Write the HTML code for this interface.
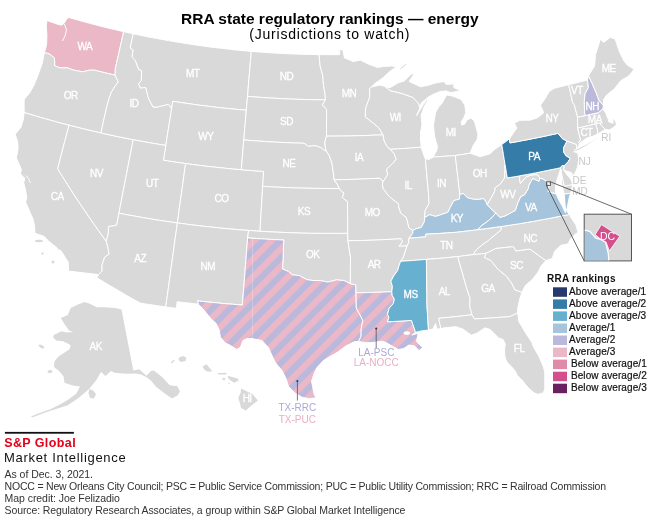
<!DOCTYPE html>
<html><head><meta charset="utf-8"><style>
html,body{margin:0;padding:0;background:#fff}
body{width:660px;height:520px;overflow:hidden;position:relative;font-family:"Liberation Sans",sans-serif}
svg{position:absolute;left:0;top:0;will-change:transform}
.t{position:absolute;white-space:nowrap;color:#000;line-height:1}
.f{position:absolute;left:5px;white-space:nowrap;color:#222;font-size:10px;line-height:1}
</style></head><body>
<svg width="660" height="520" viewBox="0 0 660 520">
<defs>
<pattern id="stripe" patternUnits="userSpaceOnUse" width="12.445" height="12.445" patternTransform="rotate(45)">
<rect x="0" y="0" width="12.445" height="12.445" fill="#ebb8c8"/><rect x="4.34" y="0" width="6.222" height="12.445" fill="#bab9dc"/>
</pattern>
</defs>
<g stroke="#fff" stroke-width="1" stroke-linejoin="round">
<path d="M44.4,52.4L45.9,47.6L46.7,43.2L46.8,38.6L46.9,34.0L46.5,30.0L46.2,26.0L47.1,20.4L49.5,21.4L52.0,22.3L54.8,23.2L57.5,24.2L59.5,24.7L61.5,25.2L64.0,23.5L66.5,19.5L68.5,17.4L72.2,18.5L75.8,19.5L79.5,20.5L83.2,21.5L86.8,22.5L90.5,23.5L94.2,24.5L97.8,25.4L101.5,26.4L105.2,27.3L108.9,28.2L112.6,29.1L116.3,29.9L119.9,30.8L123.6,31.6L122.5,36.9L121.3,42.2L120.1,47.5L118.9,52.8L117.7,58.1L116.5,63.4L115.3,68.7L115.2,71.9L115.1,75.1L111.6,74.3L108.1,73.5L104.7,72.7L101.2,71.8L97.7,71.0L94.2,70.1L91.4,70.2L88.6,70.3L85.7,71.1L82.8,71.8L79.7,71.3L76.6,70.7L73.5,70.1L70.6,69.0L67.6,67.8L63.8,67.9L60.0,67.9L57.3,66.8L54.6,65.6L54.7,61.8L54.2,57.8L52.0,56.0L49.9,54.2L47.2,53.3L44.4,52.4Z" fill="#ebb8c8"/><path d="M44.4,52.4L43.3,57.9L42.2,63.5L40.7,67.7L39.2,71.9L37.7,76.1L35.7,80.9L33.7,85.8L31.8,89.1L29.9,92.4L27.1,95.9L24.2,99.4L24.1,103.6L24.1,107.8L24.2,112.5L28.3,113.8L32.3,115.0L36.4,116.2L40.4,117.4L44.5,118.5L48.6,119.7L52.6,120.8L56.7,122.0L60.8,123.1L64.9,124.1L69.0,125.2L72.9,126.2L76.9,127.2L80.9,128.2L84.9,129.2L88.9,130.2L92.9,131.1L96.9,132.0L100.9,132.9L102.1,127.7L103.2,122.4L104.4,117.2L105.6,112.0L106.8,106.7L107.8,103.1L108.7,99.5L110.1,95.7L111.5,91.9L113.2,89.2L114.9,86.4L118.3,81.9L116.7,78.5L115.1,75.1L111.6,74.3L108.1,73.5L104.7,72.7L101.2,71.8L97.7,71.0L94.2,70.1L91.4,70.2L88.6,70.3L85.7,71.1L82.8,71.8L79.7,71.3L76.6,70.7L73.5,70.1L70.6,69.0L67.6,67.8L63.8,67.9L60.0,67.9L57.3,66.8L54.6,65.6L54.7,61.8L54.2,57.8L52.0,56.0L49.9,54.2L47.2,53.3L44.4,52.4Z" fill="#d9d9d9"/><path d="M24.2,112.5L23.7,116.3L23.2,120.0L22.1,123.6L21.0,127.2L18.1,130.7L15.2,134.2L16.4,138.0L17.7,141.8L18.1,148.2L17.3,153.1L16.4,157.9L18.9,163.7L21.4,169.6L20.5,174.0L22.7,176.2L24.9,178.4L23.7,182.7L25.4,189.4L26.1,193.5L26.8,197.6L25.6,202.0L27.9,207.3L30.1,212.5L31.7,216.1L33.2,219.6L34.6,226.2L34.8,229.7L35.0,233.2L39.5,234.8L44.0,236.3L46.5,238.9L49.0,241.5L51.1,243.2L53.2,244.8L57.5,248.2L57.2,249.6L60.8,250.5L62.7,253.3L65.4,257.7L68.2,262.2L68.4,266.6L68.5,271.0L72.8,271.6L77.1,272.1L81.4,272.6L85.7,273.1L90.0,273.6L94.3,274.1L98.6,274.5L102.1,271.0L102.0,264.9L103.4,260.9L104.8,257.0L109.2,254.1L108.4,250.1L107.6,246.1L106.3,241.3L102.6,236.2L98.9,231.1L95.3,225.9L91.7,220.8L88.1,215.6L84.6,210.4L81.1,205.3L77.6,200.1L74.2,194.9L70.8,189.6L67.5,184.4L64.2,179.2L60.9,173.9L57.7,168.7L59.1,163.3L60.5,157.8L61.9,152.4L63.3,146.9L64.7,141.5L66.2,136.1L67.6,130.6L69.0,125.2L64.9,124.1L60.8,123.1L56.7,122.0L52.6,120.8L48.6,119.7L44.5,118.5L40.4,117.4L36.4,116.2L32.3,115.0L28.3,113.8L24.2,112.5Z" fill="#d9d9d9"/><path d="M69.0,125.2L72.9,126.2L76.9,127.2L80.9,128.2L84.9,129.2L88.9,130.2L92.9,131.1L96.9,132.0L100.9,132.9L104.9,133.8L108.9,134.7L113.0,135.6L117.0,136.5L121.1,137.3L125.1,138.1L129.2,138.9L133.2,139.7L132.1,145.4L131.0,151.0L129.9,156.7L128.8,162.3L127.7,168.0L126.6,173.6L125.5,179.3L124.4,184.9L123.3,190.6L122.2,196.3L121.1,201.9L120.0,207.6L118.9,213.2L117.8,219.1L116.7,225.0L113.4,225.9L110.9,226.2L108.4,226.5L108.4,232.6L107.4,236.9L106.3,241.3L102.6,236.2L98.9,231.1L95.3,225.9L91.7,220.8L88.1,215.6L84.6,210.4L81.1,205.3L77.6,200.1L74.2,194.9L70.8,189.6L67.5,184.4L64.2,179.2L60.9,173.9L57.7,168.7L59.1,163.3L60.5,157.8L61.9,152.4L63.3,146.9L64.7,141.5L66.2,136.1L67.6,130.6L69.0,125.2Z" fill="#d9d9d9"/><path d="M115.1,75.1L115.2,71.9L115.3,68.7L116.5,63.4L117.7,58.1L118.9,52.8L120.1,47.5L121.3,42.2L122.5,36.9L123.6,31.6L126.9,32.4L130.1,33.1L133.3,33.8L132.2,38.5L131.2,43.3L130.2,48.1L133.3,50.3L132.6,53.5L132.0,56.8L133.7,58.7L135.4,60.5L137.0,65.0L138.8,69.5L141.7,70.8L141.5,75.7L141.3,80.6L138.6,83.8L140.4,88.0L143.1,87.7L145.8,87.5L146.9,91.9L147.9,96.2L149.4,100.2L151.2,103.6L153.0,107.0L157.3,107.0L161.1,106.1L164.8,105.2L168.6,104.3L171.6,108.6L170.8,113.9L170.0,119.1L169.1,124.4L168.3,129.6L167.4,134.9L166.6,140.2L165.8,145.4L161.7,144.8L157.6,144.1L153.5,143.4L149.5,142.7L145.4,142.0L141.3,141.2L137.3,140.5L133.2,139.7L129.2,138.9L125.1,138.1L121.1,137.3L117.0,136.5L113.0,135.6L108.9,134.7L104.9,133.8L100.9,132.9L102.1,127.7L103.2,122.4L104.4,117.2L105.6,112.0L106.8,106.7L107.8,103.1L108.7,99.5L110.1,95.7L111.5,91.9L113.2,89.2L114.9,86.4L118.3,81.9L116.7,78.5L115.1,75.1Z" fill="#d9d9d9"/><path d="M133.3,33.8L137.2,34.6L141.1,35.4L145.0,36.2L148.9,37.0L152.8,37.7L156.7,38.5L160.6,39.2L164.5,39.9L168.4,40.6L172.3,41.3L176.3,42.0L180.2,42.6L184.1,43.2L188.1,43.8L192.0,44.4L195.9,45.0L199.9,45.6L203.8,46.1L207.8,46.7L211.7,47.2L215.7,47.7L219.6,48.1L223.6,48.6L227.5,49.0L231.5,49.5L235.4,49.9L239.4,50.3L243.3,50.7L247.3,51.0L251.3,51.4L250.8,57.0L250.3,62.6L249.9,68.2L249.4,73.8L248.9,79.4L248.4,85.0L248.0,90.7L247.5,96.3L247.1,101.0L246.7,105.6L246.3,110.2L242.2,109.9L238.1,109.5L234.0,109.1L229.9,108.7L225.8,108.3L221.7,107.9L217.6,107.4L213.6,106.9L209.5,106.4L205.4,105.9L201.3,105.4L197.2,104.9L193.2,104.3L189.1,103.7L185.0,103.1L181.0,102.5L176.9,101.9L172.8,101.3L172.2,104.9L171.6,108.6L168.6,104.3L164.8,105.2L161.1,106.1L157.3,107.0L153.0,107.0L151.2,103.6L149.4,100.2L147.9,96.2L146.9,91.9L145.8,87.5L143.1,87.7L140.4,88.0L138.6,83.8L141.3,80.6L141.5,75.7L141.7,70.8L138.8,69.5L137.0,65.0L135.4,60.5L133.7,58.7L132.0,56.8L132.6,53.5L133.3,50.3L130.2,48.1L131.2,43.3L132.2,38.5L133.3,33.8Z" fill="#d9d9d9"/><path d="M171.6,108.6L172.2,104.9L172.8,101.3L176.9,101.9L181.0,102.5L185.0,103.1L189.1,103.7L193.2,104.3L197.2,104.9L201.3,105.4L205.4,105.9L209.5,106.4L213.6,106.9L217.6,107.4L221.7,107.9L225.8,108.3L229.9,108.7L234.0,109.1L238.1,109.5L242.2,109.9L246.3,110.2L245.8,116.2L245.3,122.1L244.8,128.0L244.3,134.0L243.8,139.9L243.3,145.9L242.8,151.8L242.3,157.8L241.8,163.8L241.3,169.7L237.0,169.4L232.7,169.0L228.4,168.6L224.1,168.1L219.8,167.7L215.5,167.2L211.2,166.8L206.9,166.3L202.7,165.8L198.4,165.2L194.1,164.7L189.8,164.1L185.6,163.5L181.1,162.9L176.7,162.3L172.3,161.6L167.8,160.9L163.4,160.2L164.2,155.3L165.0,150.4L165.8,145.4L166.6,140.2L167.4,134.9L168.3,129.6L169.1,124.4L170.0,119.1L170.8,113.9L171.6,108.6Z" fill="#d9d9d9"/><path d="M133.2,139.7L137.3,140.5L141.3,141.2L145.4,142.0L149.5,142.7L153.5,143.4L157.6,144.1L161.7,144.8L165.8,145.4L165.0,150.4L164.2,155.3L163.4,160.2L167.8,160.9L172.3,161.6L176.7,162.3L181.1,162.9L185.6,163.5L184.7,169.5L183.9,175.4L183.1,181.3L182.3,187.3L181.5,193.2L180.6,199.1L179.8,205.1L179.0,211.0L178.2,217.0L177.4,222.9L172.8,222.3L168.3,221.6L163.8,221.0L159.3,220.3L154.8,219.6L150.3,218.8L145.8,218.1L141.3,217.3L136.8,216.5L132.4,215.7L127.9,214.9L123.4,214.1L118.9,213.2L120.0,207.6L121.1,201.9L122.2,196.3L123.3,190.6L124.4,184.9L125.5,179.3L126.6,173.6L127.7,168.0L128.8,162.3L129.9,156.7L131.0,151.0L132.1,145.4L133.2,139.7Z" fill="#d9d9d9"/><path d="M118.9,213.2L123.4,214.1L127.9,214.9L132.4,215.7L136.8,216.5L141.3,217.3L145.8,218.1L150.3,218.8L154.8,219.6L159.3,220.3L163.8,221.0L168.3,221.6L172.8,222.3L177.4,222.9L176.6,228.5L175.8,234.1L175.0,239.7L174.2,245.4L173.5,251.0L172.7,256.6L171.9,262.2L171.1,267.8L170.4,273.4L169.6,279.0L168.8,284.6L168.1,290.2L167.3,295.7L166.5,301.3L165.7,306.9L161.5,306.3L157.2,305.7L153.0,305.1L148.8,304.4L144.5,303.8L140.3,303.1L135.8,300.6L131.4,298.2L127.0,295.7L122.7,293.1L118.3,290.6L114.0,288.0L109.6,285.5L105.3,282.9L101.0,280.3L96.8,277.7L98.6,274.5L102.1,271.0L102.0,264.9L103.4,260.9L104.8,257.0L109.2,254.1L108.4,250.1L107.6,246.1L106.3,241.3L107.4,236.9L108.4,232.6L108.4,226.5L110.9,226.2L113.4,225.9L116.7,225.0L117.8,219.1L118.9,213.2Z" fill="#d9d9d9"/><path d="M185.6,163.5L189.8,164.1L194.1,164.7L198.4,165.2L202.7,165.8L206.9,166.3L211.2,166.8L215.5,167.2L219.8,167.7L224.1,168.1L228.4,168.6L232.7,169.0L237.0,169.4L241.3,169.7L245.7,170.1L250.2,170.4L254.7,170.8L259.2,171.1L263.6,171.4L263.3,176.4L263.0,181.3L262.7,186.3L262.3,191.9L262.0,197.5L261.7,203.2L261.3,208.8L261.0,214.4L260.6,220.0L260.3,225.6L260.0,231.2L256.2,231.0L252.4,230.7L248.6,230.4L244.1,230.1L239.7,229.8L235.2,229.4L230.8,229.0L226.3,228.6L221.8,228.2L217.4,227.7L212.9,227.2L208.5,226.8L204.0,226.3L199.6,225.8L195.1,225.2L190.7,224.7L186.2,224.1L181.8,223.5L177.4,222.9L178.2,217.0L179.0,211.0L179.8,205.1L180.6,199.1L181.5,193.2L182.3,187.3L183.1,181.3L183.9,175.4L184.7,169.5L185.6,163.5Z" fill="#d9d9d9"/><path d="M177.4,222.9L181.8,223.5L186.2,224.1L190.7,224.7L195.1,225.2L199.6,225.8L204.0,226.3L208.5,226.8L212.9,227.2L217.4,227.7L221.8,228.2L226.3,228.6L230.8,229.0L235.2,229.4L239.7,229.8L244.1,230.1L248.6,230.4L248.1,234.2L247.6,237.9L247.2,243.5L246.7,249.1L246.3,254.7L245.9,260.3L245.4,265.9L245.0,271.5L244.6,277.1L244.1,282.7L243.7,288.3L243.3,293.8L242.8,299.4L242.4,305.0L237.4,304.6L232.4,304.2L227.4,303.8L222.5,303.4L217.5,302.9L212.5,302.4L207.5,301.9L202.6,301.4L197.6,300.8L198.4,304.2L194.1,303.7L189.9,303.2L185.7,302.7L181.4,302.2L177.2,301.7L176.8,305.0L176.3,308.3L172.8,307.9L169.3,307.4L165.7,306.9L166.5,301.3L167.3,295.7L168.1,290.2L168.8,284.6L169.6,279.0L170.4,273.4L171.1,267.8L171.9,262.2L172.7,256.6L173.5,251.0L174.2,245.4L175.0,239.7L175.8,234.1L176.6,228.5L177.4,222.9Z" fill="#d9d9d9"/><path d="M251.3,51.4L255.0,51.7L258.8,52.0L262.6,52.2L266.3,52.5L270.1,52.8L273.8,53.0L277.6,53.2L281.4,53.4L285.1,53.6L288.9,53.8L292.7,53.9L296.4,54.1L300.2,54.2L304.0,54.3L307.7,54.4L311.5,54.5L315.3,54.6L319.0,54.6L319.6,60.5L320.2,66.4L321.4,70.8L322.7,75.2L323.1,80.4L323.6,85.6L324.3,90.0L325.1,94.5L325.5,99.8L321.4,99.8L317.3,99.7L313.2,99.7L309.0,99.6L304.9,99.5L300.8,99.4L296.7,99.3L292.6,99.1L288.5,98.9L284.4,98.8L280.3,98.6L276.2,98.3L272.1,98.1L268.0,97.9L263.9,97.6L259.8,97.3L255.7,97.0L251.6,96.7L247.5,96.3L248.0,90.7L248.4,85.0L248.9,79.4L249.4,73.8L249.9,68.2L250.3,62.6L250.8,57.0L251.3,51.4Z" fill="#d9d9d9"/><path d="M247.5,96.3L251.6,96.7L255.7,97.0L259.8,97.3L263.9,97.6L268.0,97.9L272.1,98.1L276.2,98.3L280.3,98.6L284.4,98.8L288.5,98.9L292.6,99.1L296.7,99.3L300.8,99.4L304.9,99.5L309.0,99.6L313.2,99.7L317.3,99.7L321.4,99.8L325.5,99.8L322.4,104.8L326.6,109.3L326.6,114.7L326.6,120.0L326.5,125.4L326.5,130.7L326.5,136.1L324.8,142.1L325.4,148.1L326.4,151.2L324.3,150.3L320.4,147.3L317.7,146.5L315.0,145.7L311.7,146.0L308.4,146.3L306.3,144.8L304.1,143.3L299.8,143.1L295.5,143.0L291.2,142.8L286.9,142.7L282.6,142.5L278.3,142.3L273.9,142.0L269.6,141.8L265.3,141.5L261.0,141.2L256.7,140.9L252.4,140.6L248.1,140.3L243.8,139.9L244.3,134.0L244.8,128.0L245.3,122.1L245.8,116.2L246.3,110.2L246.7,105.6L247.1,101.0L247.5,96.3Z" fill="#d9d9d9"/><path d="M243.8,139.9L248.1,140.3L252.4,140.6L256.7,140.9L261.0,141.2L265.3,141.5L269.6,141.8L273.9,142.0L278.3,142.3L282.6,142.5L286.9,142.7L291.2,142.8L295.5,143.0L299.8,143.1L304.1,143.3L306.3,144.8L308.4,146.3L311.7,146.0L315.0,145.7L317.7,146.5L320.4,147.3L324.3,150.3L326.4,151.2L329.2,155.5L330.6,159.3L331.9,163.0L332.4,166.4L332.9,169.7L333.7,175.0L334.0,179.8L337.1,183.9L339.3,188.4L334.8,188.5L330.3,188.5L325.7,188.5L321.2,188.4L316.7,188.4L312.2,188.3L307.7,188.2L303.2,188.1L298.7,188.0L294.2,187.9L289.7,187.7L285.2,187.5L280.7,187.3L276.2,187.1L271.7,186.9L267.2,186.6L262.7,186.3L263.0,181.3L263.3,176.4L263.6,171.4L259.2,171.1L254.7,170.8L250.2,170.4L245.7,170.1L241.3,169.7L241.8,163.8L242.3,157.8L242.8,151.8L243.3,145.9L243.8,139.9Z" fill="#d9d9d9"/><path d="M262.7,186.3L267.2,186.6L271.7,186.9L276.2,187.1L280.7,187.3L285.2,187.5L289.7,187.7L294.2,187.9L298.7,188.0L303.2,188.1L307.7,188.2L312.2,188.3L316.7,188.4L321.2,188.4L325.7,188.5L330.3,188.5L334.8,188.5L339.3,188.4L341.7,191.4L344.0,192.9L342.3,197.4L344.9,199.5L347.5,201.5L347.6,206.8L347.6,212.1L347.7,217.4L347.7,222.7L347.8,228.0L347.8,233.3L343.2,233.4L338.6,233.4L333.9,233.4L329.3,233.4L324.7,233.4L320.1,233.4L315.4,233.3L310.8,233.3L306.2,233.2L301.6,233.1L296.9,232.9L292.3,232.8L287.7,232.6L283.1,232.4L278.4,232.2L273.8,232.0L269.2,231.8L264.6,231.5L260.0,231.2L260.3,225.6L260.6,220.0L261.0,214.4L261.3,208.8L261.7,203.2L262.0,197.5L262.3,191.9L262.7,186.3Z" fill="#d9d9d9"/><path d="M260.0,231.2L264.6,231.5L269.2,231.8L273.8,232.0L278.4,232.2L283.1,232.4L287.7,232.6L292.3,232.8L296.9,232.9L301.6,233.1L306.2,233.2L310.8,233.3L315.4,233.3L320.1,233.4L324.7,233.4L329.3,233.4L333.9,233.4L338.6,233.4L343.2,233.4L347.8,233.3L347.9,237.0L347.9,240.8L348.8,246.3L349.6,251.8L350.5,257.2L350.5,262.5L350.4,267.8L350.4,273.0L350.4,278.3L350.3,283.6L347.1,282.1L343.9,280.5L340.2,280.2L336.5,279.8L332.1,281.0L327.8,282.1L324.1,281.3L320.4,280.6L316.7,280.5L313.0,280.5L309.9,280.1L306.8,279.6L303.2,277.7L299.5,275.7L295.9,275.2L292.2,274.7L288.6,271.6L285.6,270.3L282.6,269.0L282.8,263.2L283.1,257.4L283.3,251.6L283.5,245.8L283.8,240.0L279.3,239.8L274.7,239.6L270.2,239.3L265.7,239.1L261.2,238.8L256.6,238.5L252.1,238.2L247.6,237.9L248.1,234.2L248.6,230.4L252.4,230.7L256.2,231.0L260.0,231.2Z" fill="#d9d9d9"/><path d="M198.4,304.2L197.6,300.8L202.6,301.4L207.5,301.9L212.5,302.4L217.5,302.9L222.5,303.4L227.4,303.8L232.4,304.2L237.4,304.6L242.4,305.0L242.8,299.4L243.3,293.8L243.7,288.3L244.1,282.7L244.6,277.1L245.0,271.5L245.4,265.9L245.9,260.3L246.3,254.7L246.7,249.1L247.2,243.5L247.6,237.9L252.1,238.2L256.6,238.5L261.2,238.8L265.7,239.1L270.2,239.3L274.7,239.6L279.3,239.8L283.8,240.0L283.5,245.8L283.3,251.6L283.1,257.4L282.8,263.2L282.6,269.0L285.6,270.3L288.6,271.6L292.2,274.7L295.9,275.2L299.5,275.7L303.2,277.7L306.8,279.6L309.9,280.1L313.0,280.5L316.7,280.5L320.4,280.6L324.1,281.3L327.8,282.1L332.1,281.0L336.5,279.8L340.2,280.2L343.9,280.5L347.1,282.1L350.3,283.6L353.1,284.2L355.8,284.8L355.9,288.8L356.0,292.7L356.1,297.9L356.2,303.0L356.3,308.1L359.5,313.9L361.2,317.2L362.9,320.5L362.0,324.6L361.2,328.7L361.1,332.4L361.1,336.2L358.5,341.5L354.2,341.7L350.2,343.8L346.1,345.8L342.1,348.8L338.1,351.8L334.1,354.2L330.0,356.5L326.7,358.5L323.3,360.6L320.3,363.9L317.2,367.3L314.2,373.1L312.9,377.1L311.5,381.1L312.2,384.5L312.9,387.9L313.5,391.2L314.2,394.5L316.0,397.7L312.4,398.2L308.8,398.6L305.5,398.0L302.1,397.3L298.8,395.3L295.4,393.3L292.0,389.9L288.6,386.5L287.3,382.5L286.0,378.5L283.9,374.4L281.9,370.4L278.5,366.4L275.2,362.3L273.6,358.9L272.0,355.5L270.2,351.5L268.5,347.5L265.2,344.0L262.0,340.5L257.0,339.6L252.0,338.6L247.1,338.6L242.9,340.5L241.7,343.8L240.5,347.1L236.8,349.5L233.5,347.4L230.2,345.3L225.3,342.9L222.9,340.2L220.5,337.4L219.8,333.8L219.2,330.2L217.7,326.9L216.2,323.5L213.5,321.1L210.8,318.6L206.5,313.2L202.3,308.3L198.4,304.2Z" fill="url(#stripe)"/><path d="M319.0,54.6L322.5,54.7L325.9,54.7L329.4,54.7L332.8,54.7L336.3,54.7L339.7,54.6L339.7,49.1L343.0,50.2L343.7,54.1L344.5,58.0L347.4,59.1L350.4,60.3L353.3,61.5L356.8,60.8L360.3,60.1L364.4,62.1L368.5,64.2L371.6,65.3L374.6,66.4L377.7,67.5L380.7,66.9L383.7,66.4L387.8,66.2L391.8,65.9L394.0,66.5L396.1,67.1L393.1,69.2L390.1,71.2L386.2,74.8L382.4,78.3L378.9,80.7L375.4,83.1L371.5,87.0L369.6,88.4L369.7,92.5L369.8,96.7L368.4,100.7L367.0,104.7L365.5,108.7L365.4,112.8L365.3,116.9L368.0,119.0L370.8,121.1L374.7,124.3L378.6,127.5L380.8,131.1L383.0,134.8L379.0,135.0L375.0,135.1L370.9,135.3L366.9,135.5L362.9,135.6L358.8,135.7L354.8,135.8L350.7,135.9L346.7,136.0L342.7,136.0L338.6,136.1L334.6,136.1L330.5,136.1L326.5,136.1L326.5,130.7L326.5,125.4L326.6,120.0L326.6,114.7L326.6,109.3L322.4,104.8L325.5,99.8L325.1,94.5L324.3,90.0L323.6,85.6L323.1,80.4L322.7,75.2L321.4,70.8L320.2,66.4L319.6,60.5L319.0,54.6Z" fill="#d9d9d9"/><path d="M326.5,136.1L330.5,136.1L334.6,136.1L338.6,136.1L342.7,136.0L346.7,136.0L350.7,135.9L354.8,135.8L358.8,135.7L362.9,135.6L366.9,135.5L370.9,135.3L375.0,135.1L379.0,135.0L383.0,134.8L384.1,140.7L387.1,146.5L390.2,149.3L394.2,153.6L395.2,156.5L396.2,159.4L392.0,164.2L389.4,166.6L386.7,169.0L387.1,172.0L387.6,174.9L385.4,178.2L383.2,181.5L379.5,178.2L375.4,178.4L371.3,178.6L367.1,178.8L363.0,179.0L358.8,179.1L354.7,179.3L350.6,179.4L346.4,179.5L342.3,179.6L338.1,179.7L334.0,179.8L333.7,175.0L332.9,169.7L332.4,166.4L331.9,163.0L330.6,159.3L329.2,155.5L326.4,151.2L325.4,148.1L324.8,142.1L326.5,136.1Z" fill="#d9d9d9"/><path d="M334.0,179.8L338.1,179.7L342.3,179.6L346.4,179.5L350.6,179.4L354.7,179.3L358.8,179.1L363.0,179.0L367.1,178.8L371.3,178.6L375.4,178.4L379.5,178.2L383.2,181.5L382.4,184.2L383.2,188.7L386.0,192.3L388.7,195.9L391.1,198.0L393.6,200.1L398.4,203.6L398.9,207.3L400.8,213.2L403.5,215.3L406.3,217.3L407.9,223.2L408.8,227.7L412.8,230.4L412.8,233.4L408.9,238.2L408.7,242.7L407.1,245.8L403.0,246.1L399.0,246.3L402.3,241.6L401.2,238.7L396.8,239.0L392.3,239.2L387.9,239.4L383.5,239.7L379.0,239.9L374.6,240.1L370.1,240.2L365.7,240.4L361.3,240.5L356.8,240.6L352.4,240.7L347.9,240.8L347.9,237.0L347.8,233.3L347.8,228.0L347.7,222.7L347.7,217.4L347.6,212.1L347.6,206.8L347.5,201.5L344.9,199.5L342.3,197.4L344.0,192.9L341.7,191.4L339.3,188.4L337.1,183.9L334.0,179.8Z" fill="#d9d9d9"/><path d="M347.9,240.8L352.4,240.7L356.8,240.6L361.3,240.5L365.7,240.4L370.1,240.2L374.6,240.1L379.0,239.9L383.5,239.7L387.9,239.4L392.3,239.2L396.8,239.0L401.2,238.7L402.3,241.6L399.0,246.3L403.0,246.1L407.1,245.8L405.1,252.0L403.0,258.1L400.7,261.2L399.2,265.1L397.7,270.4L393.7,275.9L390.9,281.3L392.4,286.4L391.8,291.7L387.3,291.9L382.8,292.1L378.4,292.2L373.9,292.4L369.4,292.5L364.9,292.6L360.5,292.7L356.0,292.7L355.9,288.8L355.8,284.8L353.1,284.2L350.3,283.6L350.4,278.3L350.4,273.0L350.4,267.8L350.5,262.5L350.5,257.2L349.6,251.8L348.8,246.3L347.9,240.8Z" fill="#d9d9d9"/><path d="M356.0,292.7L360.5,292.7L364.9,292.6L369.4,292.5L373.9,292.4L378.4,292.2L382.8,292.1L387.3,291.9L391.8,291.7L392.2,295.4L394.3,299.1L393.3,303.6L389.1,308.3L387.5,314.3L388.9,317.3L387.5,321.8L392.3,321.6L397.1,321.3L401.9,321.0L406.7,320.7L411.5,320.4L412.8,324.4L414.2,328.3L415.5,332.3L411.8,335.0L415.0,334.1L418.2,333.2L417.3,337.7L416.4,341.4L419.5,344.6L422.7,347.7L419.0,350.5L414.5,345.9L411.7,345.5L409.0,345.0L406.3,346.8L403.6,348.6L400.9,349.1L398.2,349.5L395.0,347.7L391.8,345.9L388.9,344.2L386.0,342.5L382.4,341.2L379.2,341.6L376.0,342.0L373.1,342.4L370.3,342.7L367.6,342.6L365.0,342.5L361.8,342.0L358.5,341.5L361.1,336.2L361.1,332.4L361.2,328.7L362.0,324.6L362.9,320.5L361.2,317.2L359.5,313.9L356.3,308.1L356.2,303.0L356.1,297.9L356.0,292.7Z" fill="url(#stripe)"/><path d="M371.5,87.0L374.3,86.3L377.2,85.7L380.0,85.0L382.7,85.8L385.5,86.5L385.5,87.0L387.8,88.8L390.2,90.6L394.2,91.6L398.3,92.6L402.3,93.6L405.8,94.9L409.4,96.1L412.9,97.4L415.9,100.7L418.9,104.0L419.9,108.3L418.2,111.9L416.5,115.5L417.5,114.0L420.5,109.2L423.5,104.3L426.5,99.5L428.0,99.8L426.0,103.4L424.0,107.0L422.6,111.0L421.1,115.0L421.5,120.0L422.0,125.0L421.3,128.5L420.5,132.0L420.5,136.0L420.5,140.0L420.9,143.6L421.2,147.2L417.4,147.5L413.5,147.8L409.6,148.1L405.7,148.4L401.8,148.6L397.9,148.9L394.0,149.1L390.2,149.3L387.1,146.5L384.1,140.7L383.0,134.8L380.8,131.1L378.6,127.5L374.7,124.3L370.8,121.1L368.0,119.0L365.3,116.9L365.4,112.8L365.5,108.7L367.0,104.7L368.4,100.7L369.8,96.7L369.7,92.5L369.6,88.4L371.5,87.0Z" fill="#d9d9d9"/><path d="M390.2,149.3L394.0,149.1L397.9,148.9L401.8,148.6L405.7,148.4L409.6,148.1L413.5,147.8L417.4,147.5L421.2,147.2L422.6,151.5L424.0,155.8L425.4,158.7L425.9,164.5L426.4,170.4L426.9,176.2L427.4,182.0L428.0,187.9L428.5,193.7L428.8,198.6L429.1,203.5L427.1,207.0L425.1,210.6L424.9,214.0L424.7,217.4L424.3,221.9L421.2,227.5L416.6,228.6L412.8,230.4L408.8,227.7L407.9,223.2L406.3,217.3L403.5,215.3L400.8,213.2L398.9,207.3L398.4,203.6L393.6,200.1L391.1,198.0L388.7,195.9L386.0,192.3L383.2,188.7L382.4,184.2L383.2,181.5L385.4,178.2L387.6,174.9L387.1,172.0L386.7,169.0L389.4,166.6L392.0,164.2L396.2,159.4L395.2,156.5L394.2,153.6L390.2,149.3Z" fill="#d9d9d9"/><path d="M385.5,87.0L387.9,87.3L390.2,87.6L394.0,85.3L397.7,83.0L401.1,81.9L404.5,80.8L408.0,77.3L411.4,73.9L414.4,73.2L411.8,77.4L409.1,81.5L412.9,83.3L416.7,85.0L420.5,86.8L424.3,86.1L428.0,85.3L431.8,84.2L435.6,83.0L438.4,82.5L441.1,82.0L443.9,81.5L446.2,84.5L450.0,84.2L453.8,83.8L453.8,87.6L457.2,89.1L460.6,90.6L457.7,91.2L454.9,91.9L452.0,92.5L449.3,92.3L446.5,90.9L443.3,91.2L440.2,91.4L437.0,92.8L433.8,94.1L431.1,95.5L428.4,96.8L424.8,100.0L421.1,103.2L419.9,108.3L418.9,104.0L415.9,100.7L412.9,97.4L409.4,96.1L405.8,94.9L402.3,93.6L398.3,92.6L394.2,91.6L390.2,90.6L387.8,88.8L385.5,87.0Z" fill="#d9d9d9"/><path d="M470.2,153.2L471.2,150.5L473.8,144.2L477.0,139.9L478.0,134.6L477.2,131.5L476.5,128.3L475.4,124.6L474.3,120.9L471.2,118.2L469.1,119.0L466.9,119.8L464.8,124.0L461.6,125.1L461.1,121.9L463.8,117.7L465.9,112.4L465.3,108.7L464.8,105.0L462.9,102.3L461.1,99.5L457.9,98.2L454.7,96.8L452.4,96.2L450.2,95.5L446.5,95.0L445.6,96.8L443.8,100.0L442.0,103.2L439.0,106.5L435.6,112.3L434.9,116.5L434.2,120.8L433.5,125.0L434.0,130.5L434.5,136.0L436.0,141.4L437.5,146.7L436.5,151.0L433.0,157.0L436.7,156.8L440.5,156.6L444.2,156.3L447.9,156.1L451.6,155.8L455.3,155.5L459.0,154.9L462.8,154.4L466.5,153.8L470.2,153.2Z" fill="#d9d9d9"/><path d="M425.4,158.7L429.0,159.5L433.0,157.0L436.7,156.8L440.5,156.6L444.2,156.3L447.9,156.1L451.6,155.8L455.3,155.5L455.9,161.0L456.6,166.6L457.2,172.1L457.9,177.6L458.5,183.1L459.2,188.7L459.8,194.2L459.5,199.1L456.7,199.8L453.8,200.6L451.9,204.2L450.0,207.7L448.1,212.1L445.3,213.2L442.4,214.2L439.0,215.3L435.6,216.4L432.6,215.6L429.6,214.7L427.2,216.1L424.7,217.4L424.9,214.0L425.1,210.6L427.1,207.0L429.1,203.5L428.8,198.6L428.5,193.7L428.0,187.9L427.4,182.0L426.9,176.2L426.4,170.4L425.9,164.5L425.4,158.7Z" fill="#d9d9d9"/><path d="M455.3,155.5L459.0,154.9L462.8,154.4L466.5,153.8L470.2,153.2L472.9,154.2L475.5,155.1L477.9,155.9L480.3,156.7L483.5,155.8L486.7,154.8L489.9,153.8L492.4,151.5L494.9,149.2L498.3,146.9L501.7,144.6L502.6,149.6L503.4,154.5L504.2,159.4L505.0,164.4L505.0,169.6L504.8,173.8L504.6,178.0L502.5,181.0L500.4,184.0L497.8,185.9L495.2,187.8L494.6,191.7L491.4,197.5L489.3,201.1L487.2,204.6L485.6,201.6L483.9,198.6L481.1,199.0L478.2,199.4L475.9,199.3L473.5,199.3L470.5,198.5L467.5,197.8L463.5,193.7L459.8,194.2L459.2,188.7L458.5,183.1L457.9,177.6L457.2,172.1L456.6,166.6L455.9,161.0L455.3,155.5Z" fill="#d9d9d9"/><path d="M459.8,194.2L463.5,193.7L467.5,197.8L470.5,198.5L473.5,199.3L475.9,199.3L478.2,199.4L481.1,199.0L483.9,198.6L485.6,201.6L487.2,204.6L489.9,207.6L494.1,211.5L495.8,212.9L492.0,217.6L489.1,220.0L486.1,222.5L481.8,225.4L477.8,229.7L473.5,230.3L469.2,230.8L464.9,231.3L460.6,231.8L456.3,232.3L451.9,232.6L447.5,232.9L443.2,233.2L438.8,233.5L434.4,233.7L430.1,234.0L425.7,234.2L425.9,236.8L421.7,237.2L417.4,237.5L413.2,237.9L408.9,238.2L412.8,233.4L412.8,230.4L416.6,228.6L421.2,227.5L424.3,221.9L424.7,217.4L427.2,216.1L429.6,214.7L432.6,215.6L435.6,216.4L439.0,215.3L442.4,214.2L445.3,213.2L448.1,212.1L450.0,207.7L451.9,204.2L453.8,200.6L456.7,199.8L459.5,199.1L459.8,194.2Z" fill="#a6c5dc"/><path d="M408.9,238.2L413.2,237.9L417.4,237.5L421.7,237.2L425.9,236.8L425.7,234.2L430.1,234.0L434.4,233.7L438.8,233.5L443.2,233.2L447.5,232.9L451.9,232.6L456.3,232.3L460.6,231.8L464.9,231.3L469.2,230.8L473.5,230.3L477.8,229.7L482.5,229.1L487.2,228.5L492.0,227.8L496.7,227.1L501.4,226.5L501.1,230.1L498.7,232.0L496.2,233.9L491.9,237.6L489.7,239.4L487.6,241.2L484.8,243.1L482.0,245.0L479.3,247.3L476.5,249.5L473.2,254.6L469.4,255.1L465.5,255.6L461.6,256.1L457.8,256.6L453.3,257.0L448.8,257.5L444.3,257.9L439.8,258.3L435.3,258.7L430.8,259.0L426.3,259.4L422.0,259.7L417.7,260.1L413.5,260.4L409.2,260.7L404.9,261.0L400.7,261.2L403.0,258.1L405.1,252.0L407.1,245.8L408.7,242.7L408.9,238.2Z" fill="#d9d9d9"/><path d="M400.7,261.2L404.9,261.0L409.2,260.7L413.5,260.4L417.7,260.1L422.0,259.7L426.3,259.4L426.4,260.9L426.5,266.5L426.6,272.1L426.7,277.7L426.7,283.4L426.8,289.0L426.9,294.6L426.9,300.2L427.0,305.8L427.3,310.7L427.6,315.5L427.9,320.3L428.2,325.2L428.5,330.0L424.8,330.5L421.0,331.0L418.3,331.7L415.5,332.3L414.2,328.3L412.8,324.4L411.5,320.4L406.7,320.7L401.9,321.0L397.1,321.3L392.3,321.6L387.5,321.8L388.9,317.3L387.5,314.3L389.1,308.3L393.3,303.6L394.3,299.1L392.2,295.4L391.8,291.7L392.4,286.4L390.9,281.3L393.7,275.9L397.7,270.4L399.2,265.1L400.7,261.2Z" fill="#68b0d0"/><path d="M426.3,259.4L430.8,259.0L435.3,258.7L439.8,258.3L444.3,257.9L448.8,257.5L453.3,257.0L457.8,256.6L459.2,261.8L460.7,267.0L462.1,272.1L463.6,277.3L465.1,282.5L466.5,287.7L468.3,293.1L470.1,298.5L469.9,302.3L469.7,306.1L470.9,310.4L472.0,314.8L467.3,315.3L462.6,315.9L457.9,316.4L453.1,316.9L448.4,317.4L443.7,317.8L438.9,318.2L439.1,320.5L440.0,324.6L440.9,328.8L437.0,329.0L435.5,323.5L433.0,329.0L428.5,330.0L428.2,325.2L427.9,320.3L427.6,315.5L427.3,310.7L427.0,305.8L426.9,300.2L426.9,294.6L426.8,289.0L426.7,283.4L426.7,277.7L426.6,272.1L426.5,266.5L426.4,260.9L426.3,259.4Z" fill="#d9d9d9"/><path d="M457.8,256.6L461.6,256.1L465.5,255.6L469.4,255.1L473.2,254.6L477.6,254.1L481.9,253.7L486.2,253.2L484.4,257.4L487.7,259.0L491.0,260.5L494.3,264.8L497.7,269.0L502.0,272.5L506.3,276.0L508.9,279.5L511.5,282.9L513.2,286.4L515.0,289.8L518.4,291.0L521.9,292.3L520.7,296.1L519.5,299.9L518.6,304.2L517.7,308.5L517.7,312.9L514.1,314.6L510.4,316.4L508.5,316.7L503.6,317.1L498.8,317.4L493.9,317.8L489.0,318.1L484.1,318.4L479.2,318.7L474.3,319.0L472.0,314.8L470.9,310.4L469.7,306.1L469.9,302.3L470.1,298.5L468.3,293.1L466.5,287.7L465.1,282.5L463.6,277.3L462.1,272.1L460.7,267.0L459.2,261.8L457.8,256.6Z" fill="#d9d9d9"/><path d="M472.0,314.8L474.3,319.0L479.2,318.7L484.1,318.4L489.0,318.1L493.9,317.8L498.8,317.4L503.6,317.1L508.5,316.7L510.4,316.4L514.1,314.6L517.7,312.9L518.3,317.3L518.8,321.8L521.0,325.0L523.5,329.4L526.1,333.7L528.9,338.0L531.8,342.3L533.3,346.6L536.2,351.7L539.1,356.7L541.2,361.8L543.4,366.8L544.1,369.7L544.8,372.6L544.8,377.6L544.8,382.7L544.8,388.5L543.4,392.8L540.5,393.6L537.6,394.3L534.0,392.8L530.7,389.9L527.5,387.0L525.3,384.2L523.2,381.3L520.3,378.4L517.4,375.5L515.3,371.2L511.6,366.8L507.3,362.5L505.2,358.2L504.8,354.6L504.4,351.0L504.8,347.4L505.2,343.8L503.0,339.4L498.7,338.0L494.3,333.7L490.0,329.3L484.8,327.9L481.2,330.3L477.6,332.7L474.6,334.0L471.5,335.2L467.2,332.2L463.0,329.1L459.4,327.9L455.8,326.7L451.7,327.1L447.7,327.5L443.6,327.9L440.9,328.8L440.0,324.6L439.1,320.5L438.9,318.2L443.7,317.8L448.4,317.4L453.1,316.9L457.9,316.4L462.6,315.9L467.3,315.3L472.0,314.8Z" fill="#d9d9d9"/><path d="M486.2,253.2L489.4,251.6L492.7,250.0L495.9,248.3L500.0,247.9L504.1,247.5L508.2,247.0L512.3,246.6L513.8,247.1L516.0,251.0L520.6,250.3L525.1,249.7L529.7,249.0L535.0,252.8L540.4,256.7L545.9,260.5L543.5,263.2L541.1,265.9L538.3,271.7L535.3,275.7L532.1,279.7L528.8,282.5L525.5,285.3L523.7,288.8L521.9,292.3L518.4,291.0L515.0,289.8L513.2,286.4L511.5,282.9L508.9,279.5L506.3,276.0L502.0,272.5L497.7,269.0L494.3,264.8L491.0,260.5L487.7,259.0L484.4,257.4L486.2,253.2Z" fill="#d9d9d9"/><path d="M501.4,226.5L505.9,225.8L510.5,225.1L515.1,224.4L519.6,223.7L524.2,222.9L528.7,222.1L533.3,221.4L537.8,220.5L542.4,219.7L546.9,218.9L551.4,218.0L556.0,217.1L560.5,216.2L565.0,215.3L569.5,214.4L571.2,217.9L573.4,221.2L575.7,224.5L576.9,228.5L578.1,232.5L575.9,233.7L573.3,236.2L570.7,238.7L568.1,243.8L564.5,244.6L560.9,245.3L557.7,248.2L554.6,251.2L553.4,254.8L552.3,258.5L549.1,259.5L545.9,260.5L540.4,256.7L535.0,252.8L529.7,249.0L525.1,249.7L520.6,250.3L516.0,251.0L513.8,247.1L512.3,246.6L508.2,247.0L504.1,247.5L500.0,247.9L495.9,248.3L492.7,250.0L489.4,251.6L486.2,253.2L481.9,253.7L477.6,254.1L473.2,254.6L476.5,249.5L479.3,247.3L482.0,245.0L484.8,243.1L487.6,241.2L489.7,239.4L491.9,237.6L496.2,233.9L498.7,232.0L501.1,230.1L501.4,226.5Z" fill="#d9d9d9"/><path d="M477.8,229.7L481.8,225.4L486.1,222.5L489.1,220.0L492.0,217.6L495.8,212.9L500.0,217.4L502.6,216.6L505.1,215.9L509.3,213.7L512.3,212.0L515.3,210.4L516.5,206.8L517.7,203.1L520.7,196.5L524.5,194.8L528.1,188.9L528.9,185.1L530.8,181.7L532.6,178.3L535.8,179.8L539.0,181.2L539.9,178.1L543.2,179.0L547.8,182.2L549.1,184.2L549.0,187.3L548.1,191.3L552.0,192.8L556.3,193.8L560.7,194.8L564.7,194.0L567.7,193.6L570.6,193.3L570.2,194.5L568.7,199.5L568.2,202.7L567.6,206.0L566.6,210.0L567.8,212.8L569.5,214.4L565.0,215.3L560.5,216.2L556.0,217.1L551.4,218.0L546.9,218.9L542.4,219.7L537.8,220.5L533.3,221.4L528.7,222.1L524.2,222.9L519.6,223.7L515.1,224.4L510.5,225.1L505.9,225.8L501.4,226.5L496.7,227.1L492.0,227.8L487.2,228.5L482.5,229.1L477.8,229.7Z" fill="#a6c5dc"/><path d="M505.0,164.4L505.8,168.9L506.5,173.5L507.3,178.0L511.2,177.3L515.1,176.7L519.0,176.0L519.7,179.8L520.4,183.6L524.0,179.2L527.0,176.3L529.5,175.7L531.9,175.0L535.9,174.6L538.0,175.0L539.9,178.1L539.0,181.2L535.8,179.8L532.6,178.3L530.8,181.7L528.9,185.1L528.1,188.9L524.5,194.8L520.7,196.5L517.7,203.1L516.5,206.8L515.3,210.4L512.3,212.0L509.3,213.7L505.1,215.9L502.6,216.6L500.0,217.4L495.8,212.9L494.1,211.5L489.9,207.6L487.2,204.6L489.3,201.1L491.4,197.5L494.6,191.7L495.2,187.8L497.8,185.9L500.4,184.0L502.5,181.0L504.6,178.0L504.8,173.8L505.0,169.6L505.0,164.4Z" fill="#d9d9d9"/><path d="M519.0,176.0L523.1,175.2L527.3,174.5L531.4,173.7L535.6,172.9L539.7,172.1L543.8,171.2L547.9,170.4L552.1,169.5L556.2,168.7L560.3,167.8L561.3,172.4L562.3,177.0L563.3,181.6L564.3,186.2L568.6,185.4L572.8,184.5L571.7,188.9L570.6,193.3L567.7,193.6L564.7,194.0L560.7,194.8L556.3,193.8L552.0,192.8L548.1,191.3L549.0,187.3L549.1,184.2L547.8,182.2L543.2,179.0L539.9,178.1L538.0,175.0L535.9,174.6L531.9,175.0L529.5,175.7L527.0,176.3L524.0,179.2L520.4,183.6L519.7,179.8L519.0,176.0Z" fill="#d9d9d9"/><path d="M560.3,167.8L562.0,165.5L564.3,165.7L563.5,169.7L566.2,173.7L568.6,176.6L571.0,179.5L572.8,184.5L568.6,185.4L564.3,186.2L563.3,181.6L562.3,177.0L561.3,172.4L560.3,167.8Z" fill="#d9d9d9"/><path d="M501.7,144.6L503.8,143.1L505.9,141.6L509.3,138.9L510.0,142.9L514.0,142.2L517.9,141.5L521.9,140.7L525.9,140.0L529.9,139.2L533.9,138.4L537.8,137.6L541.8,136.8L545.8,136.0L549.7,135.1L553.7,134.3L557.6,133.4L558.7,133.9L562.2,138.5L567.0,141.1L565.3,144.5L563.5,147.9L563.7,152.1L566.3,156.0L570.3,158.2L568.2,161.7L566.2,163.7L564.3,165.7L562.0,165.5L560.3,167.8L556.2,168.7L552.1,169.5L547.9,170.4L543.8,171.2L539.7,172.1L535.6,172.9L531.4,173.7L527.3,174.5L523.1,175.2L519.0,176.0L515.1,176.7L511.2,177.3L507.3,178.0L506.5,173.5L505.8,168.9L505.0,164.4L504.2,159.4L503.4,154.5L502.6,149.6L501.7,144.6Z" fill="#367ca8"/><path d="M564.3,165.7L566.2,163.7L568.2,161.7L570.3,158.2L566.3,156.0L563.7,152.1L563.5,147.9L565.3,144.5L567.0,141.1L571.8,142.7L576.6,144.4L576.7,149.3L575.3,152.4L577.7,152.6L578.2,155.9L578.7,159.3L578.2,163.2L577.6,167.2L575.3,172.4L572.3,177.2L572.0,173.1L568.7,171.6L563.7,170.4L564.3,165.7Z" fill="#d9d9d9"/><path d="M509.3,138.9L511.8,135.3L514.4,131.6L516.9,128.0L514.3,123.2L517.1,121.7L519.9,120.3L523.2,120.3L526.5,120.2L529.8,120.2L533.4,119.1L537.1,118.0L540.4,115.4L543.7,112.7L541.6,107.9L540.4,105.1L542.8,101.9L545.1,98.7L547.0,95.3L549.0,91.8L551.6,90.0L554.2,88.3L557.8,87.4L561.4,86.5L565.0,85.6L568.6,84.7L569.5,88.4L570.4,92.1L571.4,97.2L572.5,102.3L574.3,104.9L575.4,109.0L576.5,113.1L577.5,117.2L577.6,122.6L577.6,128.0L578.6,132.0L579.6,136.0L580.6,140.0L578.5,142.4L579.6,143.6L578.5,146.2L576.7,149.3L576.6,144.4L571.8,142.7L567.0,141.1L562.2,138.5L558.7,133.9L557.6,133.4L553.7,134.3L549.7,135.1L545.8,136.0L541.8,136.8L537.8,137.6L533.9,138.4L529.9,139.2L525.9,140.0L521.9,140.7L517.9,141.5L514.0,142.2L510.0,142.9L509.3,138.9Z" fill="#d9d9d9"/><path d="M577.6,128.0L581.2,127.2L584.9,126.3L588.5,125.5L592.2,124.7L595.8,123.8L596.6,126.8L597.4,129.9L597.9,133.9L595.6,135.0L593.3,136.1L590.0,137.0L586.8,138.0L584.4,139.8L581.9,141.5L579.6,143.6L578.5,142.4L580.6,140.0L579.6,136.0L578.6,132.0L577.6,128.0Z" fill="#d9d9d9"/><path d="M595.8,123.8L598.0,123.2L600.3,122.6L600.7,124.3L605.1,129.4L603.3,130.6L600.6,132.3L597.9,133.9L597.4,129.9L596.6,126.8L595.8,123.8Z" fill="#d9d9d9"/><path d="M602.9,108.7L600.7,110.6L598.5,112.6L594.4,113.5L590.2,114.4L586.1,115.4L583.3,116.0L580.4,116.6L577.5,117.2L577.6,122.6L577.6,128.0L581.2,127.2L584.9,126.3L588.5,125.5L592.2,124.7L595.8,123.8L598.0,123.2L600.3,122.6L600.7,124.3L605.1,129.4L609.2,130.0L611.3,128.8L613.3,127.5L616.3,125.0L615.8,121.7L613.3,118.7L612.5,119.5L613.3,123.3L608.5,121.7L608.3,119.0L607.0,116.5L605.9,113.2L602.9,108.7Z" fill="#d9d9d9"/><path d="M568.6,84.7L572.4,83.8L576.2,82.8L580.0,81.8L583.7,80.9L587.5,79.9L588.0,83.7L588.4,87.5L586.8,90.6L585.1,93.7L584.7,97.3L584.3,100.9L584.4,105.2L584.5,109.5L584.6,113.9L586.1,115.4L583.3,116.0L580.4,116.6L577.5,117.2L576.5,113.1L575.4,109.0L574.3,104.9L572.5,102.3L571.4,97.2L570.4,92.1L569.5,88.4L568.6,84.7Z" fill="#d9d9d9"/><path d="M587.5,79.9L588.6,75.6L590.5,80.0L592.5,84.3L594.4,88.7L596.3,93.0L597.6,96.6L598.9,100.1L601.1,102.7L603.3,105.4L602.9,108.7L600.7,110.6L598.5,112.6L594.4,113.5L590.2,114.4L586.1,115.4L584.6,113.9L584.5,109.5L584.4,105.2L584.3,100.9L584.7,97.3L585.1,93.7L586.8,90.6L588.4,87.5L588.0,83.7L587.5,79.9Z" fill="#bab9dc"/><path d="M588.6,75.6L591.6,70.8L594.6,66.0L595.1,60.2L595.5,54.5L597.2,49.3L598.8,44.2L600.4,39.0L603.6,42.3L606.9,39.9L610.2,37.4L612.7,38.2L615.1,39.0L616.5,43.1L617.8,47.2L619.2,51.3L621.6,56.2L624.1,61.1L627.4,65.2L630.8,67.2L634.2,69.1L631.6,72.5L629.0,75.8L626.3,77.4L623.5,79.1L620.8,80.7L617.6,84.8L614.3,88.9L611.6,91.1L608.8,93.3L606.1,95.5L603.5,100.0L603.3,105.4L601.1,102.7L598.9,100.1L597.6,96.6L596.3,93.0L594.4,88.7L592.5,84.3L590.5,80.0L588.6,75.6Z" fill="#d9d9d9"/><path d="M574.5,152.0L578.3,150.3L582.0,148.5L586.0,146.0L590.0,143.5L592.8,141.6L595.7,139.7L598.5,137.8L599.5,137.2L596.7,138.6L593.8,140.1L591.0,141.5L587.0,143.7L583.0,145.8L579.5,147.5L576.0,149.2L574.2,150.5Z" fill="#d9d9d9"/>
</g>
<path d="M121.5,309.6L115.4,308.1L104.6,307.3L96.9,307.3L89.2,303.5L84.6,301.9L76.9,305.0L70.8,308.1L67.7,315.0L60.8,318.1L64.6,324.2L69.2,330.5L73.1,331.9L66.9,332.5L61.5,331.2L53.8,335.0L53.1,337.3L56.2,340.4L63.1,341.2L69.2,344.2L70.8,345.8L69.2,349.6L63.1,353.5L58.5,356.5L54.6,361.2L53.8,366.5L55.5,368.2L59.1,370.9L63.6,376.4L64.5,382.7L72.7,385.5L80.0,386.4L76.4,393.6L69.1,399.1L61.8,403.6L50.9,409.1L38.2,413.6L30.9,416.4L32.7,417.3L47.3,411.8L67.3,405.5L78.2,398.2L89.1,389.1L96.4,380.0L102.7,369.1L100.0,371.0L105.5,376.0L110.9,370.9L114.5,372.7L121.8,373.6L128.0,373.8L135.9,373.6L141.2,374.6L147.6,377.8L151.8,381.5L156.0,386.8L164.5,393.2L172.0,398.5L177.8,395.3L179.9,391.6L177.3,386.3L169.8,385.2L162.4,377.3L153.9,370.4L150.8,370.9L146.5,375.7L139.1,369.3L133.3,370.4Z" fill="#d9d9d9"/><path d="M89.5,389.0L93.0,390.5L96.0,394.0L94.0,398.5L90.0,398.0L88.5,393.0Z" fill="#d9d9d9"/><path d="M179.0,357.5L183.0,356.0L186.3,357.5L185.5,361.0L181.0,361.9L178.5,360.0Z" fill="#d9d9d9"/><path d="M170.9,362.5L173.5,359.8L174.6,360.5L172.0,363.5Z" fill="#d9d9d9"/><path d="M202.5,366.5L206.5,364.2L212.3,371.2L207.7,371.7L204.2,369.4Z" fill="#d9d9d9"/><path d="M218.1,372.9L226.7,372.9L226.1,374.6L218.1,374.6Z" fill="#d9d9d9"/><path d="M222.1,377.5L225.6,378.6L224.4,380.4L222.7,379.8Z" fill="#d9d9d9"/><path d="M227.9,375.8L231.9,376.9L237.7,378.6L238.8,380.4L234.2,382.7L229.6,379.8L227.9,377.5Z" fill="#d9d9d9"/><path d="M227.9,382.7L230.2,383.3L229.0,384.4Z" fill="#d9d9d9"/><path d="M241.1,388.5L245.7,390.8L252.7,394.2L257.9,400.6L252.7,404.6L245.7,410.4L241.1,408.1L240.0,403.4L238.3,397.7L240.6,393.1Z" fill="#d9d9d9"/><g fill="#d9d9d9"><ellipse cx="41.5" cy="346.5" rx="3.2" ry="1.4" transform="rotate(30 41.5 346.5)"/><ellipse cx="50" cy="371.5" rx="2.5" ry="1.5"/></g>
<path d="M560,169L558.5,174L556.5,180L555,186L555,192L557,197L559.5,202L562,206.5L564,211L565.5,213.5L566.5,211.5L565.8,207L565.3,202L565,197L564.3,192L563,187L562,182L561.8,176L561.5,169Z" fill="#fff"/>
<line x1="252.5" y1="239" x2="252.5" y2="338.5" stroke="#fff" stroke-opacity="0.3" stroke-width="0.8"/>
<g fill="none" stroke="#fff" stroke-width="1"><path d="M26,175.5L28.5,178.5L30.5,183"/><path d="M64.5,24L66.5,30L65,36L62.5,41"/></g>
<ellipse cx="406.8" cy="333" rx="3.2" ry="1.8" fill="#fff"/>
<g fill="#d9d9d9"><ellipse cx="39" cy="241" rx="4" ry="1.2"/><ellipse cx="42.5" cy="253.5" rx="1.3" ry="1"/><ellipse cx="53" cy="262" rx="1.5" ry="1.5"/><path d="M400,68.6L406.8,63.3L406,64.8L401,69Z"/></g>
<g font-size="10" fill="#fff" stroke="#fff" stroke-width="0.3" letter-spacing="-0.5" text-anchor="middle" transform="translate(0.25,0)"><text x="84.5" y="49.9">WA</text><text x="70.5" y="98.6">OR</text><text x="57" y="199.8">CA</text><text x="96.25" y="176.6">NV</text><text x="133.75" y="107.3">ID</text><text x="192.5" y="77.1">MT</text><text x="205.5" y="139.8">WY</text><text x="152" y="187.3">UT</text><text x="221.25" y="201.6">CO</text><text x="140" y="261.6">AZ</text><text x="207.5" y="269.9">NM</text><text x="286.25" y="79.8">ND</text><text x="286.25" y="124.8">SD</text><text x="288.75" y="167.3">NE</text><text x="303.75" y="214.8">KS</text><text x="312.5" y="257.6">OK</text><text x="348.75" y="97.3">MN</text><text x="358.75" y="160.6">IA</text><text x="372" y="216.1">MO</text><text x="373.85" y="267.8">AR</text><text x="395" y="121.1">WI</text><text x="408" y="188.6">IL</text><text x="450.5" y="136.1">MI</text><text x="441.25" y="187.3">IN</text><text x="479.5" y="176.8">OH</text><text x="456.6" y="221.6">KY</text><text x="446.2" y="249.0">TN</text><text x="410.3" y="297.8">MS</text><text x="444" y="295.4">AL</text><text x="487.8" y="291.8">GA</text><text x="518.9" y="351.7">FL</text><text x="516.2" y="268.6">SC</text><text x="530.1" y="241.7">NC</text><text x="530.6" y="210.9">VA</text><text x="507.5" y="197.6">WV</text><text x="533.8" y="160.4">PA</text><text x="551.7" y="122.4">NY</text><text x="576.7" y="94.0">VT</text><text x="592.1" y="109.9">NH</text><text x="594.6" y="122.8">MA</text><text x="586.3" y="135.9">CT</text><text x="608.5" y="71.9">ME</text><text x="95.45" y="350.1">AK</text><text x="246.9" y="402.4">HI</text></g>
<g font-size="10" fill="#c8c8c8" text-anchor="middle"><text x="584.6" y="164.7">NJ</text><text x="606.2" y="140.5">RI</text><text x="579.4" y="183.5">DE</text><text x="580" y="195.1">MD</text></g>
<!-- DC inset -->
<g fill="none" stroke="#444" stroke-width="0.8">
<rect x="546.4" y="181.8" width="4" height="3.6"/>
<line x1="550.4" y1="181.8" x2="631.5" y2="214.2"/><line x1="546.4" y1="185.4" x2="584.2" y2="260.9"/>
</g>
<rect x="584.2" y="214.2" width="47.3" height="46.7" fill="#d9d9d9" stroke="#555" stroke-width="1"/>
<path d="M584.7,230.2 L589.7,231.4 L595.8,238.2 L600.8,239.4 L605.7,242.5 L606.9,248 L608.2,253 L608.8,260.4 L584.7,260.4Z" fill="#a6c5dc"/>
<path d="M584.7,230.2 L589.7,231.4 L595.8,238.2 L600.8,239.4 L605.7,242.5 L606.9,248 L608.2,253 L608.8,260.4" fill="none" stroke="#fff" stroke-width="1.2"/>
<path d="M601.4,224.6 L619.8,236.3 L609.4,251 L606,242 L600.5,239 L595.2,234.5Z" fill="#d4508c" stroke="#fff" stroke-width="0.8"/>
<text x="607.5" y="239.5" font-size="10.5" fill="#fff" text-anchor="middle">DC</text>
<!-- annotations -->
<g stroke="#444" stroke-width="0.7"><line x1="297.4" y1="381" x2="297.4" y2="400.5"/><line x1="376.2" y1="328.6" x2="376.2" y2="348"/></g>
<circle cx="297.4" cy="381" r="1" fill="#333"/><circle cx="376.2" cy="328.6" r="1" fill="#333"/>
<g font-size="10" text-anchor="middle">
<text x="297.3" y="410.6" fill="#aaa9d8">TX-RRC</text><text x="297.3" y="422.6" fill="#e9aec5">TX-PUC</text>
<text x="376.3" y="356.4" fill="#aaa9d8">LA-PSC</text><text x="376.3" y="366.4" fill="#e9aec5">LA-NOCC</text>
</g>
<!-- legend -->
<text x="547" y="281.5" font-size="10" font-weight="bold" letter-spacing="0.25" fill="#111">RRA rankings</text>
<rect x="553" y="287.3" width="14" height="9.5" fill="#283a6b"/><rect x="553" y="299.4" width="14" height="9.5" fill="#367ca8"/><rect x="553" y="311.4" width="14" height="9.5" fill="#68b0d0"/><rect x="553" y="323.5" width="14" height="9.5" fill="#a6c5dc"/><rect x="553" y="335.5" width="14" height="9.5" fill="#bab9dc"/><rect x="553" y="347.6" width="14" height="9.5" fill="#ebb8c8"/><rect x="553" y="359.6" width="14" height="9.5" fill="#e18bab"/><rect x="553" y="371.7" width="14" height="9.5" fill="#d4508c"/><rect x="553" y="383.7" width="14" height="9.5" fill="#6a2060"/><g font-size="10" letter-spacing="0.1" fill="#111" stroke="#111" stroke-width="0.2"><text x="569.1" y="294.7">Above average/1</text><text x="569.1" y="306.8">Above average/2</text><text x="569.1" y="318.8">Above average/3</text><text x="569.1" y="330.9">Average/1</text><text x="569.1" y="342.9">Average/2</text><text x="569.1" y="354.9">Average/3</text><text x="570.9" y="367.0">Below average/1</text><text x="570.9" y="379.1">Below average/2</text><text x="570.9" y="391.1">Below average/3</text></g>
<rect x="4.9" y="431.9" width="69" height="1.8" fill="#111"/>
<text x="329.8" y="23.6" text-anchor="middle" font-size="15.5" font-weight="bold" fill="#000">RRA state regulatory rankings — energy</text>
<text x="329.8" y="39.3" text-anchor="middle" font-size="14" letter-spacing="0.77" fill="#000">(Jurisdictions to watch)</text>
<text x="4.2" y="446.8" font-size="12.5" font-weight="bold" letter-spacing="0.4" fill="#e2001a">S&amp;P Global</text>
<text x="4" y="461.5" font-size="13" letter-spacing="0.7" fill="#111">Market Intelligence</text>
<g font-size="10.5" fill="#333">
<text x="4.6" y="478" letter-spacing="-0.05">As of Dec. 3, 2021.</text>
<text x="4.6" y="490" letter-spacing="-0.21">NOCC = New Orleans City Council; PSC = Public Service Commission; PUC = Public Utility Commission; RRC = Railroad Commission</text>
<text x="4.6" y="502" letter-spacing="-0.06">Map credit: Joe Felizadio</text>
<text x="4.6" y="514" letter-spacing="-0.11">Source: Regulatory Research Associates, a group within S&amp;P Global Market Intelligence</text>
</g>
</svg>
</body></html>
